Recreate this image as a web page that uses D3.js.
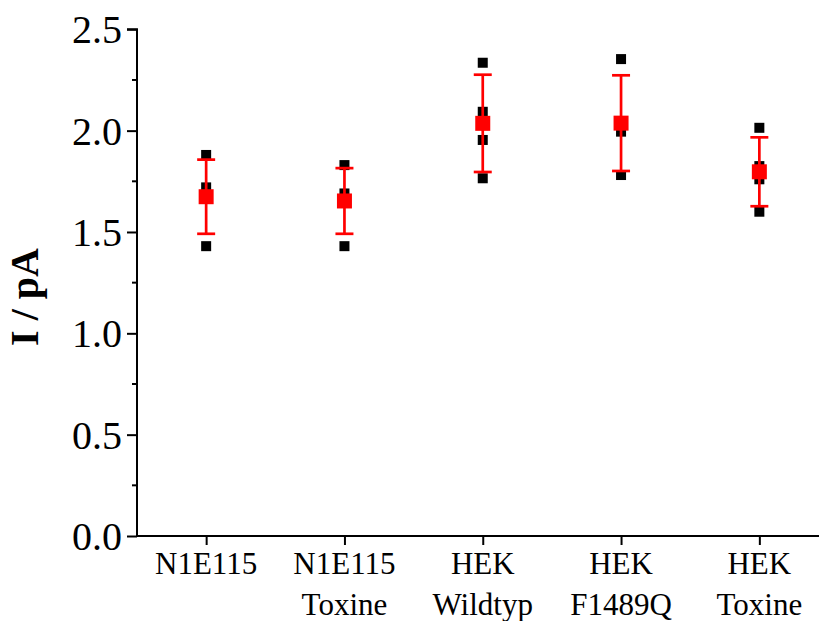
<!DOCTYPE html>
<html><head><meta charset="utf-8">
<script src="https://cdn.jsdelivr.net/npm/d3@7"></script>
<style>body{margin:0;background:#fff}svg{display:block}
svg text{font-family:"Liberation Serif","Times New Roman",Times,"DejaVu Serif",serif !important;}</style>
</head><body>
<svg id="c" width="819" height="621"></svg>
<script>
const categories = [["N1E115"], ["N1E115","Toxine"], ["HEK","Wildtyp"], ["HEK","F1489Q"], ["HEK","Toxine"]];
const points = [
  [1.88, 1.72, 1.43],
  [1.83, 1.69, 1.43],
  [2.335, 2.093, 1.954, 1.765],
  [2.353, 1.995, 1.781],
  [2.014, 1.825, 1.76, 1.60]
];
const means = [1.674, 1.653, 2.036, 2.037, 1.797];
const errs  = [0.183, 0.162, 0.240, 0.236, 0.170];
const yTicks = [0, 0.5, 1.0, 1.5, 2.0, 2.5];
const yMinor = [0.25, 0.75, 1.25, 1.75, 2.25];

const svg = d3.select("#c");
const x = d3.scaleLinear().domain([0.5, 5.5]).range([137, 828.5]);
const y = d3.scaleLinear().domain([0, 2.5]).range([536, 29.3]);

// y axis
const ya = svg.append("g").attr("transform","translate(137,0)")
  .call(d3.axisLeft(y).tickValues(yTicks).tickFormat(d3.format(".1f")).tickSize(10).tickPadding(5));
ya.attr("font-family",null);
ya.select(".domain").attr("stroke","#000").attr("stroke-width",2).attr("d","M0,"+y(0)+"V"+y(2.5)+"H-10");
ya.selectAll(".tick line").attr("stroke-width",2);
ya.selectAll(".tick text").attr("font-size",40).attr("fill","#000").attr("dy","0.34em");
svg.append("g").selectAll("line").data(yMinor).join("line")
  .attr("x1",132).attr("x2",137).attr("y1",d=>y(d)).attr("y2",d=>y(d))
  .attr("stroke","#000").attr("stroke-width",2);

// x axis
const xa = svg.append("g").attr("transform","translate(0,536)")
  .call(d3.axisBottom(x).tickValues([1,2,3,4,5]).tickFormat("").tickSize(9));
xa.select(".domain").attr("stroke","#000").attr("stroke-width",2).attr("d","M136,0H819");
xa.selectAll(".tick line").attr("stroke-width",2);
const lab = svg.append("g").selectAll("text").data(categories).join("text")
  .attr("x",(d,i)=>x(i+1)).attr("y",574).attr("text-anchor","middle")
  .attr("font-size",31).attr("fill","#000");
lab.each(function(d,i){
  d3.select(this).selectAll("tspan").data(d).join("tspan")
    .attr("x",x(i+1)).attr("dy",(t,j)=>j===0?0:41).text(t=>t);
});

// y title
svg.append("text").attr("transform","translate(38,297) rotate(-90)")
  .attr("text-anchor","middle").attr("font-weight","bold")
  .attr("font-size",40).attr("fill","#000").text("I / pA");

// raw points
const flat = points.flatMap((arr,i)=>arr.map(v=>({i,v})));
svg.append("g").selectAll("rect").data(flat).join("rect")
  .attr("x",d=>x(d.i+1)-5).attr("y",d=>y(d.v)-5).attr("width",10).attr("height",10).attr("fill","#000");

// error bars
const eb = svg.append("g").attr("stroke","#ff0000").attr("stroke-width",2.7);
means.forEach((m,i)=>{
  const cx = x(i+1);
  eb.append("line").attr("x1",cx).attr("x2",cx).attr("y1",y(m+errs[i])).attr("y2",y(m-errs[i]));
  eb.append("line").attr("x1",cx-9).attr("x2",cx+9).attr("y1",y(m+errs[i])).attr("y2",y(m+errs[i]));
  eb.append("line").attr("x1",cx-9).attr("x2",cx+9).attr("y1",y(m-errs[i])).attr("y2",y(m-errs[i]));
});
svg.append("g").selectAll("rect").data(means).join("rect")
  .attr("x",(d,i)=>x(i+1)-7.5).attr("y",d=>y(d)-7.5).attr("width",15).attr("height",15).attr("fill","#ff0000");
</script>
</body></html>
